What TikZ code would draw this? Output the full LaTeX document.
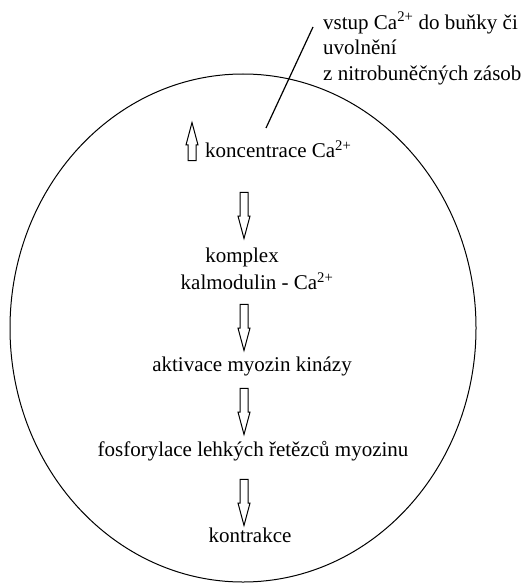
\documentclass[tikz,border=0pt]{standalone}
\usepackage{fontspec}
\setmainfont{Liberation Serif}
\usetikzlibrary{shapes.arrows}

\tikzset{
  txt/.style={font=\fontsize{21}{25.5}\selectfont,inner sep=0pt},
  blockarrow/.style={single arrow,draw,line width=1pt,inner sep=0pt,minimum height=46pt,
    minimum width=12pt,single arrow head extend=2pt,single arrow tip angle=30,
    text width=0pt,inner ysep=3.5pt}
}

\begin{document}
\begin{tikzpicture}
  [x=1pt,y=-1pt]
  \useasboundingbox (0,0) rectangle (523,583);
  \draw[line width=1pt] (243,328) ellipse [x radius=233, y radius=254];

  \node[txt,anchor=north west,align=left] (vstup) at (323,12)
    {vstup Ca\textsuperscript{2+} do buňky či\\uvolnění\\z nitrobuněčných zásob};
  \coordinate (c1) at (313,27);
  \coordinate (c2) at (266,128);
  \draw[line width=1.2pt] (c1) -- (c2);

  \node[blockarrow,rotate=90,minimum height=38pt] (up) at (192,149) {};
  \node[txt,anchor=west] (conc) at (205,149) {koncentrace Ca\textsuperscript{2+}};
  \node[txt] (kompl) at (242,257) {komplex};
  \node[txt] (kalm) at (257,281) {kalmodulin - Ca\textsuperscript{2+}};
  \node[txt] (akt) at (252,366) {aktivace myozin kinázy};
  \node[txt] (fosf) at (253,451) {fosforylace lehkých řetězců myozinu};
  \node[txt] (kontr) at (250,535) {kontrakce};

  \foreach \name/\y in {d1/208,d2/320,d3/404,d4/495}
    \node[blockarrow,rotate=-90] (\name) at (244,\y) {};

\end{tikzpicture}
\end{document}
